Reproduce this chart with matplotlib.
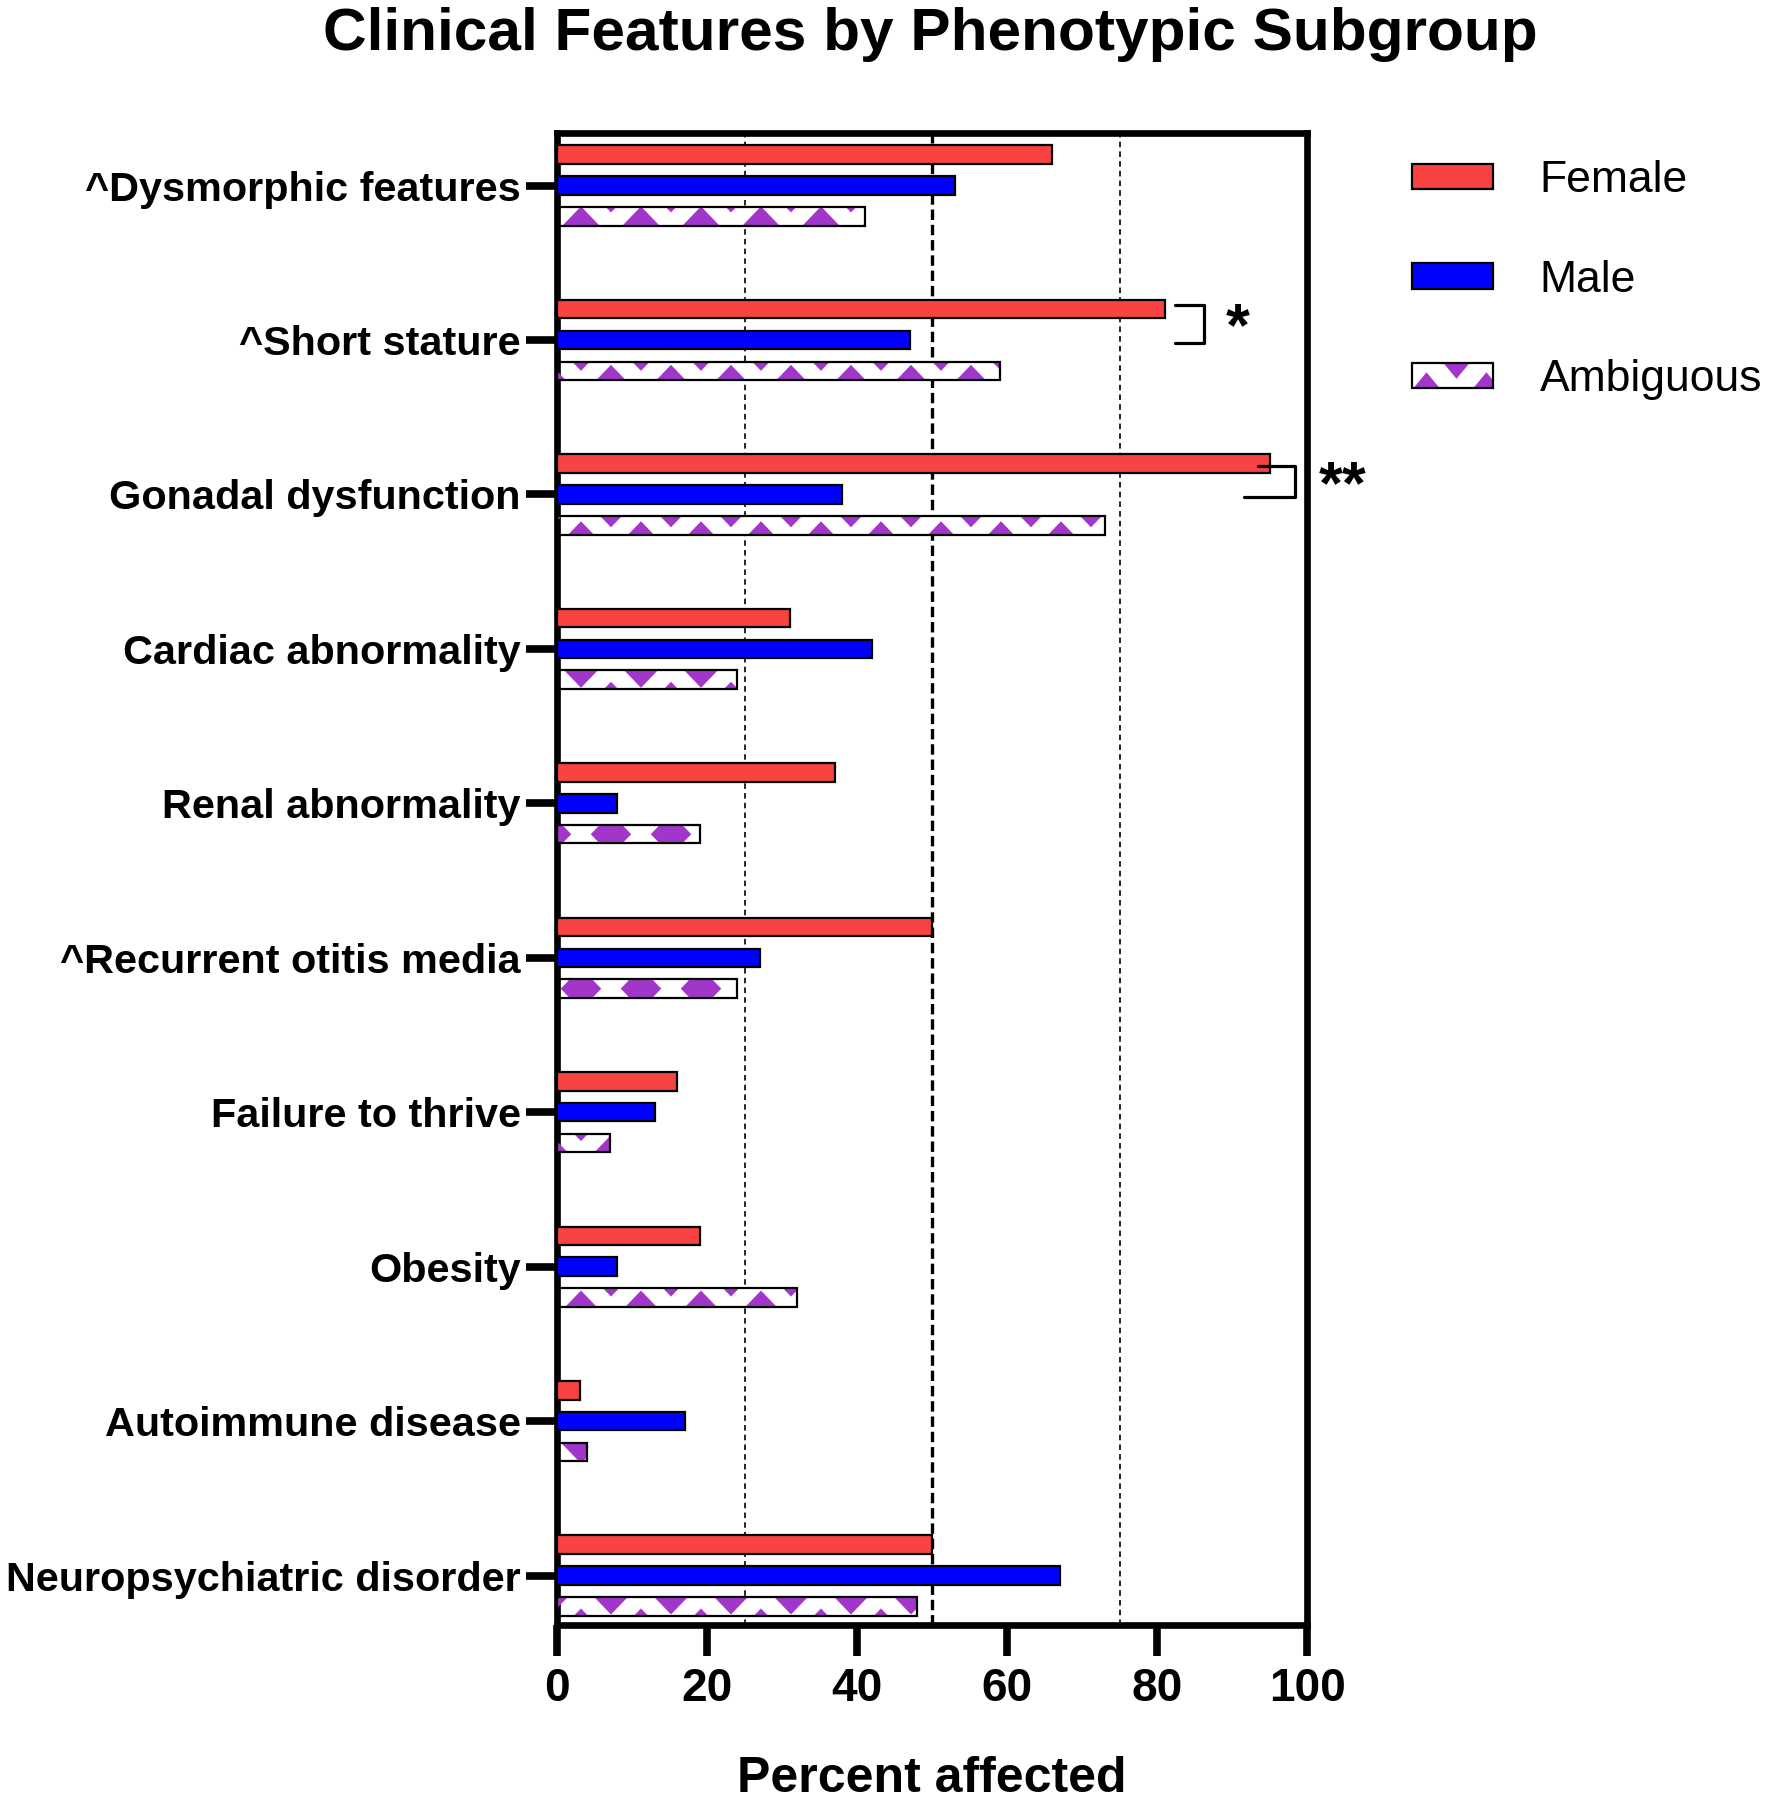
import numpy as np
import matplotlib
matplotlib.use('Agg')
import matplotlib.pyplot as plt
from matplotlib.patches import Rectangle, Polygon
from matplotlib.collections import PolyCollection
from matplotlib.legend_handler import HandlerBase

plt.rcParams['font.family'] = ['Liberation Sans', 'DejaVu Sans']
plt.rcParams['lines.scale_dashes'] = False

# データ (上から順)
features = ['^Dysmorphic features', '^Short stature', 'Gonadal dysfunction',
            'Cardiac abnormality', 'Renal abnormality', '^Recurrent otitis media',
            'Failure to thrive', 'Obesity', 'Autoimmune disease',
            'Neuropsychiatric disorder']
female = [66, 81, 95, 31, 37, 50, 16, 19, 3, 50]
male = [53, 47, 38, 42, 8, 27, 13, 8, 17, 67]
ambiguous = [41, 59, 73, 24, 19, 24, 7, 32, 4, 48]
group_names = ['Female', 'Male', 'Ambiguous']

# 有意差の表示
sig_rows = [1, 2]
sig_labels = ['*', '**']

# 色
red = '#F94242'
blue = '#0000FF'
purple = '#A336CA'

fig = plt.figure(figsize=(17.66, 18), dpi=100)
ax = fig.add_axes([557 / 1766, 1 - 1625 / 1800, 750 / 1766, 1492 / 1800])

y = np.arange(len(features))
off = 0.2
h = 0.12

ax.barh(y - off, female, height=h, color=red, edgecolor='black', linewidth=1.6, zorder=3)
ax.barh(y, male, height=h, color=blue, edgecolor='black', linewidth=1.6, zorder=3)
bg = ax.barh(y + off, ambiguous, height=h, color='white', edgecolor='none', zorder=2)
ax.barh(y + off, ambiguous, height=h, color='none', edgecolor='black', linewidth=1.6, zorder=4)

# ジグザグ模様 (ひし形の格子をバーで切り抜く)
px_y = 1492 / 9.66       # 1データ単位あたりのピクセル (縦)
period = 8.0
dia_a = 2.7
dia_b = 21 / px_y
row_gap = 36 / px_y
row_a_dy = [-11, 21, -17, 13, 36, 0, 23, -14, 9.5, -23]   # 模様の位相 (px)
for i, rect in enumerate(bg.patches):
    yc = y[i] + off
    ya = yc - row_a_dy[i] / px_y
    polys = []
    for j in range(-3, 4):
        cy = ya - j * row_gap
        phase = 3.2 + (j % 2) * period / 2
        for cx in np.arange(phase - period, ambiguous[i] + period, period):
            polys.append([(cx - dia_a, cy), (cx, cy - dia_b), (cx + dia_a, cy), (cx, cy + dia_b)])
    pc = PolyCollection(polys, facecolor=purple, edgecolor='none', zorder=3)
    ax.add_collection(pc)
    pc.set_clip_path(rect)

# 補助線
for xv in [25, 75]:
    ax.axvline(xv, color='black', lw=1.2, dashes=(4, 3), zorder=1)
ax.axvline(50, color='black', lw=2.4, dashes=(7.5, 3.5), zorder=1)

# 有意差ブラケット
br_top_x = [82.4, 93.5]
br_bot_x = [82.4, 91.6]
br_vert_x = [86.2, 98.4]
br_top_dy = [-0.229, -0.185]
br_bot_dy = [0.017, 0.016]
lab_x = [90.7, 104.7]
for k, r in enumerate(sig_rows):
    yt = r + br_top_dy[k]
    yb = r + br_bot_dy[k]
    ax.plot([br_top_x[k], br_vert_x[k], br_vert_x[k], br_bot_x[k]], [yt, yt, yb, yb],
            color='black', lw=2.3, solid_capstyle='round', clip_on=False, zorder=5)
    ax.text(lab_x[k], (yt + yb) / 2 + 0.04, sig_labels[k], fontsize=44, fontweight='bold',
            ha='center', va='center', clip_on=False)

ax.set_xlim(0, 100)
ax.set_ylim(9.32, -0.34)
ax.set_xticks(np.arange(0, 101, 20))
ax.set_yticks(y)
ax.set_yticklabels(features)
for s in ax.spines.values():
    s.set_linewidth(4.8)
ax.tick_params(axis='both', width=5.5, length=22)
ax.tick_params(axis='x', labelsize=33, pad=8)
ax.tick_params(axis='y', labelsize=29.8, pad=4)
for t in ax.get_xticklabels() + ax.get_yticklabels():
    t.set_fontweight('bold')
ax.set_xlabel('Percent affected', fontsize=36, fontweight='bold', va='baseline')
ax.xaxis.set_label_coords(0.5, (1625 - 1792) / 1492)

fig.text(930 / 1766, 1 - 34 / 1800, 'Clinical Features by Phenotypic Subgroup',
         fontsize=43.5, fontweight='bold', ha='center', va='center')


# 凡例のジグザグ模様
class ZigzagHandler(HandlerBase):
    def create_artists(self, legend, orig_handle, xdescent, ydescent, width, height, fontsize, trans):
        x0, y0 = -xdescent, -ydescent
        box = Rectangle((x0, y0), width, height, facecolor='white', edgecolor='none', transform=trans)
        arts = [box]
        a = 0.24 * width
        b = 0.93 * height
        for cx0, cy in [(0.18, -0.3), (0.55, 1.3)]:
            for cx in [cx0 - 0.74, cx0, cx0 + 0.74, cx0 + 1.48]:
                px = x0 + cx * width
                py = y0 + cy * height
                p = Polygon([(px - a, py), (px, py - b), (px + a, py), (px, py + b)],
                            facecolor=purple, edgecolor='none', transform=trans)
                p.set_clip_path(box)
                arts.append(p)
        arts.append(Rectangle((x0, y0), width, height, facecolor='none', edgecolor='black',
                              lw=1.6, transform=trans))
        return arts


h_f = Rectangle((0, 0), 1, 1, facecolor=red, edgecolor='black', lw=1.6)
h_m = Rectangle((0, 0), 1, 1, facecolor=blue, edgecolor='black', lw=1.6)
h_a = Rectangle((0, 0), 1, 1, facecolor='white', edgecolor='black', lw=1.6)
fig.legend([h_f, h_m, h_a], group_names, handler_map={h_a: ZigzagHandler()},
           loc='upper left', bbox_to_anchor=(1412 / 1766, 1 - 160 / 1800),
           frameon=False, fontsize=32, handlelength=1.82, handleheight=0.5,
           handletextpad=1.05, labelspacing=1.32, borderpad=0, borderaxespad=0)

fig.savefig('out.png', dpi=100)
